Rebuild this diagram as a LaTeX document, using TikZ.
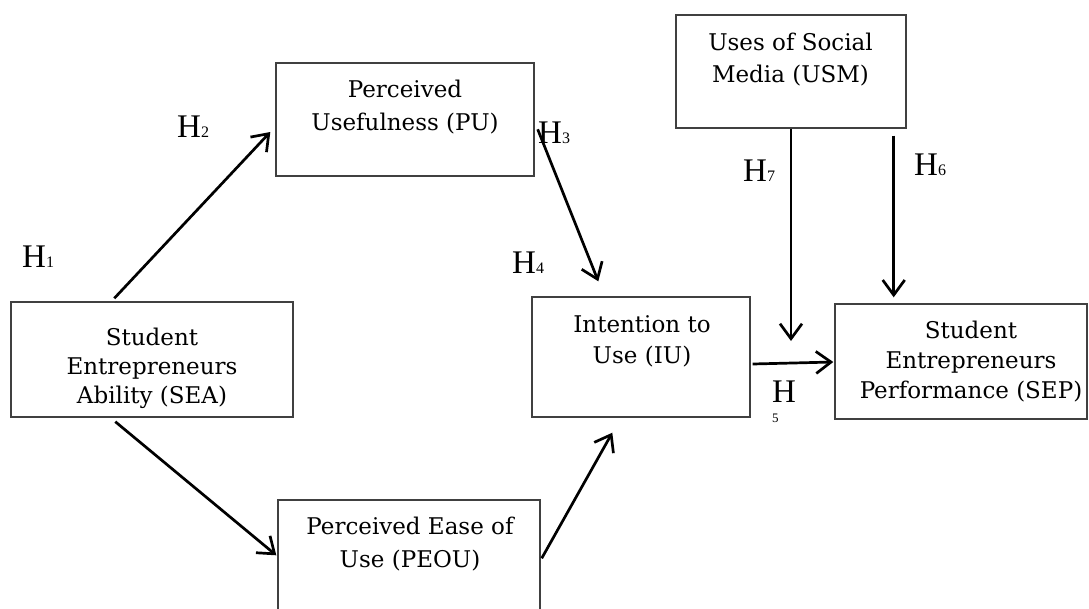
\documentclass[tikz,border=0pt]{standalone}
\usepackage{fontspec}
\setmainfont{DejaVu Serif}
\newfontfamily\hfont{Liberation Serif}
\usetikzlibrary{arrows.meta,calc}
\newcommand\hsub[1]{{\fontsize{16}{16}\selectfont #1}}
\begin{document}
\begin{tikzpicture}[x=1pt,y=-1pt,
  box/.style={draw=black!75, line width=1.4pt, rectangle, inner sep=0pt},
  btext/.style={align=center, inner sep=0pt, anchor=north, font=\fontsize{23}{#1}\selectfont},
  hl/.style={font=\hfont\fontsize{33}{33}\selectfont, inner sep=0pt, anchor=base west},
  arr/.style={line width=2.7pt, -{Straight Barb[length=15pt,width=22pt]}}]
\useasboundingbox (0,0) rectangle (1089,608);
\begin{scope}
\clip (0,0) rectangle (1089,608);
% boxes
\node[box, minimum width=282pt, minimum height=115pt] (sea) at (152,359.5) {};
\node[box, minimum width=258pt, minimum height=113pt] (pu) at (405,119.5) {};
\node[box, minimum width=230pt, minimum height=113pt] (usm) at (791,71.5) {};
\node[box, minimum width=218pt, minimum height=120pt] (iu) at (641,357) {};
\node[box, minimum width=252pt, minimum height=115pt] (sep) at (961,361.5) {};
\node[box, minimum width=262pt, minimum height=120pt] (peou) at (409,560) {};
% texts
\node[btext=29pt] (seat) at (152,328) {Student\\Entrepreneurs\\Ability (SEA)};
\node[btext=33pt] (put) at (405,80) {Perceived\\Usefulness (PU)};
\node[btext=32pt] (usmt) at (790.5,33) {Uses of Social\\Media (USM)};
\node[btext=31pt] (iut) at (642,315) {Intention to\\Use (IU)};
\node[btext=30pt] (sept) at (971,321) {Student\\Entrepreneurs\\Performance (SEP)};
\node[btext=33pt] (peout) at (410,517) {Perceived Ease of\\Use (PEOU)};
% hypothesis labels
\node[hl] (h1) at (22,267) {H\hsub{1}};
\node[hl] (h2) at (177,137) {H\hsub{2}};
\node[hl] (h3) at (538,143) {H\hsub{3}};
\node[hl] (h4) at (512,273) {H\hsub{4}};
\node[hl] (h7) at (743,181) {H\hsub{7}};
\node[hl] (h6) at (914,175) {H\hsub{6}};
\node[hl] (h5) at (772,402) {H};
\node[font=\hfont\fontsize{13}{13}\selectfont, inner sep=0pt, anchor=base west] (h5n) at (772,422) {5};
% connectors
\coordinate (h7end) at (791,341);
\coordinate (h6start) at ($(usm.south east)+(-13,7)$);
\coordinate (h6end) at ($(h6start |- sep.north)+(0,-6)$);
\draw[arr] ($(sea.north west)+(104,-3)$) -- ($(pu.west)+(-5,12.5)$);
\draw[arr] ($(sea.south west)+(105,4)$) -- ($(peou.north west)+(-1,56)$);
\draw[arr] ($(pu.north east)+(3,67)$) -- ($(iu.north west)+(67,-15)$);
\draw[arr] ($(peou.north east)+(1,59)$) -- ($(iu.south west)+(81,15)$);
\draw[arr] ($(iu.east)+(2,7)$) -- ($(sep.west)+(-1,0.5)$);
\draw[arr] (usm.south) -- (h7end);
\draw[arr] (h6start) -- (h6end);
\end{scope}
\end{tikzpicture}
\end{document}
